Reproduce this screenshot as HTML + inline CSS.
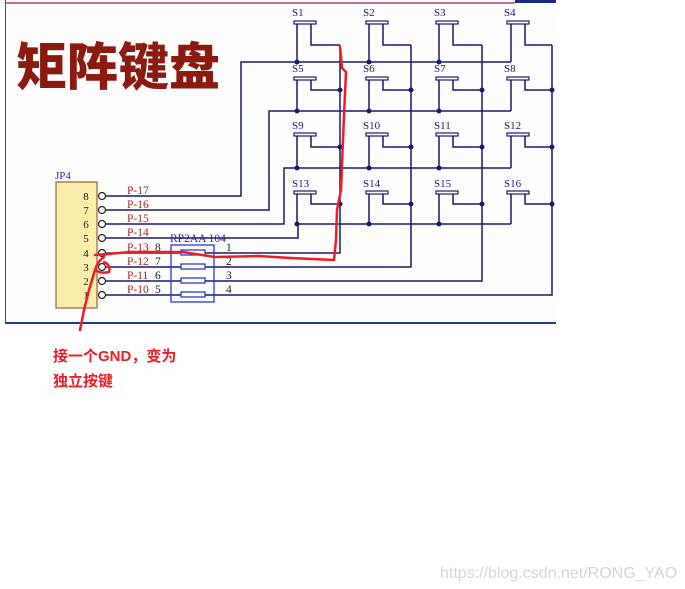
<!DOCTYPE html>
<html><head><meta charset="utf-8"><style>
html,body{margin:0;padding:0;background:#fff;width:685px;height:589px;overflow:hidden}
svg{display:block}
</style></head><body>
<svg width="685" height="589" viewBox="0 0 685 589" xmlns="http://www.w3.org/2000/svg" font-family="Liberation Serif, serif">
<rect x="5" y="0" width="551" height="323" fill="#fdfdfd"/>
<line x1="5" y1="3" x2="515" y2="3" stroke="#c04060" stroke-width="1.5"/>
<rect x="515" y="0" width="41" height="3" fill="#1a2a80"/>
<line x1="5.5" y1="0" x2="5.5" y2="323" stroke="#3050a0" stroke-width="1"/>
<line x1="5" y1="323" x2="556" y2="323" stroke="#1a3a90" stroke-width="2"/>
<text x="16" y="85" font-family="Noto Sans CJK SC, sans-serif" font-weight="900" font-size="51" fill="#8b1a10">矩阵键盘</text>
<g stroke="#1a1a70" stroke-width="1.5" fill="none">
<polyline points="102,196 241,196 241,62 511,62"/>
<polyline points="102,210 269,210 269,111 511,111"/>
<polyline points="102,224 284,224 284,168 511,168"/>
<polyline points="102,238 298,238 298,224 511,224"/>
<polyline points="102,253 340,253 340,45"/>
<polyline points="102,267 411,267 411,45"/>
<polyline points="102,281 482,281 482,45"/>
<polyline points="102,295 552,295 552,45"/>
</g>
<g stroke="#1a1a70" stroke-width="1.5" fill="none">
<path d="M297,23V62 M311,23V45H340 M369,23V62 M383,23V45H411 M439,23V62 M453,23V45H482 M511,23V62 M525,23V45H552"/>
<path d="M297,79V111 M311,79V90H340 M369,79V111 M383,79V90H411 M439,79V111 M453,79V90H482 M511,79V111 M525,79V90H552"/>
<path d="M297,135V168 M311,135V147H340 M369,135V168 M383,135V147H411 M439,135V168 M453,135V147H482 M511,135V168 M525,135V147H552"/>
<path d="M297,193V224 M311,193V204H340 M369,193V224 M383,193V204H411 M439,193V224 M453,193V204H482 M511,193V224 M525,193V204H552"/>
</g>
<g fill="#fff" stroke="#1a1a70" stroke-width="1.2">
<rect x="294" y="21" width="22" height="3"/><rect x="366" y="21" width="22" height="3"/><rect x="436" y="21" width="22" height="3"/><rect x="507" y="21" width="22" height="3"/>
<rect x="294" y="77" width="22" height="3"/><rect x="366" y="77" width="22" height="3"/><rect x="436" y="77" width="22" height="3"/><rect x="507" y="77" width="22" height="3"/>
<rect x="294" y="133" width="22" height="3"/><rect x="366" y="133" width="22" height="3"/><rect x="436" y="133" width="22" height="3"/><rect x="507" y="133" width="22" height="3"/>
<rect x="294" y="191" width="22" height="3"/><rect x="366" y="191" width="22" height="3"/><rect x="436" y="191" width="22" height="3"/><rect x="507" y="191" width="22" height="3"/>
</g>
<g fill="#1a1a70">
<circle cx="297" cy="62" r="2.5"/><circle cx="369" cy="62" r="2.5"/><circle cx="439" cy="62" r="2.5"/>
<circle cx="297" cy="111" r="2.5"/><circle cx="369" cy="111" r="2.5"/><circle cx="439" cy="111" r="2.5"/>
<circle cx="297" cy="168" r="2.5"/><circle cx="369" cy="168" r="2.5"/><circle cx="439" cy="168" r="2.5"/>
<circle cx="297" cy="224" r="2.5"/><circle cx="369" cy="224" r="2.5"/><circle cx="439" cy="224" r="2.5"/>
<circle cx="340" cy="90" r="2.5"/><circle cx="411" cy="90" r="2.5"/><circle cx="482" cy="90" r="2.5"/><circle cx="552" cy="90" r="2.5"/>
<circle cx="340" cy="147" r="2.5"/><circle cx="411" cy="147" r="2.5"/><circle cx="482" cy="147" r="2.5"/><circle cx="552" cy="147" r="2.5"/>
<circle cx="340" cy="204" r="2.5"/><circle cx="411" cy="204" r="2.5"/><circle cx="482" cy="204" r="2.5"/><circle cx="552" cy="204" r="2.5"/>
</g>
<g fill="#1a1a70" font-size="11">
<text x="292" y="16">S1</text><text x="363" y="16">S2</text><text x="434" y="16">S3</text><text x="504" y="16">S4</text>
<text x="292" y="72">S5</text><text x="363" y="72">S6</text><text x="434" y="72">S7</text><text x="504" y="72">S8</text>
<text x="292" y="129">S9</text><text x="363" y="129">S10</text><text x="434" y="129">S11</text><text x="504" y="129">S12</text>
<text x="292" y="187">S13</text><text x="363" y="187">S14</text><text x="434" y="187">S15</text><text x="504" y="187">S16</text>
</g>
<text x="55" y="179" font-size="11" fill="#2a2a90">JP4</text>
<rect x="56" y="182" width="41" height="126" fill="#fbeeaa" stroke="#a0603a" stroke-width="1.2"/>
<g font-size="11" fill="#222" text-anchor="middle">
<text x="86" y="200">8</text><text x="86" y="214">7</text><text x="86" y="228">6</text><text x="86" y="242">5</text><text x="86" y="257">4</text><text x="86" y="271">3</text><text x="86" y="285">2</text><text x="86" y="299">1</text>
</g>
<g fill="#fff" stroke="#222" stroke-width="1.2">
<circle cx="102" cy="196" r="3.5"/><circle cx="102" cy="210" r="3.5"/><circle cx="102" cy="224" r="3.5"/><circle cx="102" cy="238" r="3.5"/><circle cx="102" cy="253" r="3.5"/><circle cx="102" cy="267" r="3.5"/><circle cx="102" cy="281" r="3.5"/><circle cx="102" cy="295" r="3.5"/>
</g>
<g font-size="11.5" fill="#9a2a20">
<text x="127" y="194">P-17</text><text x="127" y="208">P-16</text><text x="127" y="222">P-15</text><text x="127" y="236">P-14</text><text x="127" y="251">P-13</text><text x="127" y="265">P-12</text><text x="127" y="279">P-11</text><text x="127" y="293">P-10</text>
</g>
<g font-size="11.5" fill="#222">
<text x="155" y="251">8</text><text x="155" y="265">7</text><text x="155" y="279">6</text><text x="155" y="293">5</text>
<text x="226" y="251">1</text><text x="226" y="265">2</text><text x="226" y="279">3</text><text x="226" y="293">4</text>
</g>
<text x="170" y="242" font-size="11.5" fill="#2a2a90">RP2AA 104</text>
<rect x="171" y="245" width="43" height="57" fill="none" stroke="#2a3ad0" stroke-width="1.3"/>
<g fill="#fff" stroke="#2a3ad0" stroke-width="1.3">
<rect x="181" y="250" width="24" height="5"/><rect x="181" y="264" width="24" height="5"/><rect x="181" y="278" width="24" height="5"/><rect x="181" y="292" width="24" height="5"/>
</g>
<g stroke="#ee1c24" stroke-width="2.5" fill="none" stroke-linecap="round" stroke-linejoin="round">
<path d="M340,47 L342,68 L346,72 L344,115 L341,190 L337,210 L336,240 L334,260 L291,258 L258,256 L215,257 L183,252 L129,252 L108,254 L95,255"/>
<path d="M104,257 Q97,262 95,270 Q101,274 109,272 Q111,265 104,262"/>
<path d="M95,270 L89,290 L84,310 L80,330"/>
</g>
<text x="53" y="361" font-family="Liberation Sans, Noto Sans CJK SC, sans-serif" font-weight="bold" font-size="15" fill="#ee1c24">接一个GND，变为</text>
<text x="53" y="386" font-family="Liberation Sans, Noto Sans CJK SC, sans-serif" font-weight="bold" font-size="15" fill="#ee1c24">独立按键</text>
<text x="440" y="578" font-family="Liberation Sans, sans-serif" font-size="16" fill="#d4d4d4">https://blog.csdn.net/RONG_YAO</text>
</svg>
</body></html>
